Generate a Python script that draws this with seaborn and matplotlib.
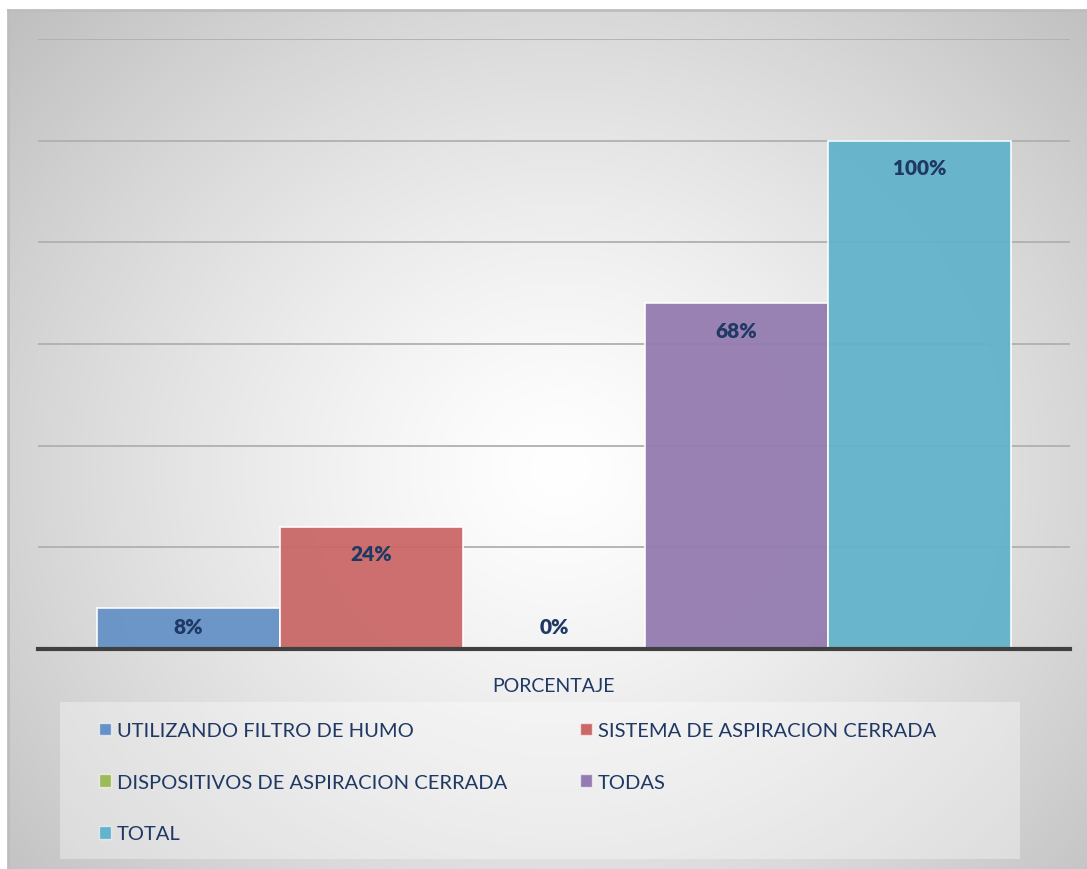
import numpy as np
import pandas as pd
import matplotlib.pyplot as plt
import seaborn as sns
from matplotlib.patches import Patch, Rectangle

# chart data
category = 'PORCENTAJE'
series = ['UTILIZANDO FILTRO DE HUMO', 'SISTEMA DE ASPIRACION CERRADA',
          'DISPOSITIVOS DE ASPIRACION CERRADA', 'TODAS', 'TOTAL']
values = [8, 24, 0, 68, 100]
colors = ['#6592c6', '#ca6867', '#9bbb59', '#947bb0', '#62b3cb']
text_color = '#1f3864'

df = pd.DataFrame({'grupo': [category] * len(series), 'serie': series, 'valor': values})

sns.set_theme(style='white')
plt.rcParams['font.family'] = ['Lato', 'DejaVu Sans']

W, H = 1087, 870
fig = plt.figure(figsize=(W / 100, H / 100), dpi=100)
fig.patch.set_facecolor('white')

# radial gradient background of the chart area
bg = fig.add_axes([8 / W, 0, 1 - 8 / W, 1 - 11 / H])
yy, xx = np.mgrid[11:H, 8:W]
dist = np.sqrt((xx - 560) ** 2 + ((yy - 470) * 1.1) ** 2) / 720
shade = 1 - 0.24 * np.clip(dist, 0, 1.2) ** 1.3
bg.imshow(np.dstack([shade] * 3), aspect='auto', extent=(0, 1, 0, 1), zorder=0)
bg.set_xlim(0, 1)
bg.set_ylim(0, 1)
bg.set_xticks([])
bg.set_yticks([])
for side in ['right', 'bottom']:
    bg.spines[side].set_visible(False)
for side in ['left', 'top']:
    bg.spines[side].set_color('#bdbdbd')
    bg.spines[side].set_linewidth(2)

# legend box
bg.add_patch(Rectangle(((60 - 8) / (W - 8), (H - 860) / (H - 11)),
                       960 / (W - 8), 157 / (H - 11),
                       facecolor='white', alpha=0.35, edgecolor='none', zorder=1))

ax = fig.add_axes([38 / W, 1 - 650 / H, (1070 - 38) / W, 610 / H])
ax.patch.set_alpha(0)
ax.set_axisbelow(True)
ax.yaxis.grid(True, color='#b0b0b0', linewidth=1.3)

sns.barplot(data=df, x='grupo', y='valor', hue='serie', hue_order=series,
            palette=colors, width=0.885, saturation=1, legend=False, ax=ax,
            edgecolor=(1, 1, 1, 0.5), linewidth=1.2, alpha=0.95)

ax.set_xlim(-0.5, 0.5)
ax.set_ylim(0, 120)
ax.set_yticks(np.arange(0, 121, 20))
ax.set_yticklabels([])
ax.set_xlabel('')
ax.set_ylabel('')
ax.tick_params(axis='both', length=0)
ax.tick_params(axis='x', labelsize=14, labelcolor=text_color, pad=20)
for side in ['left', 'right', 'top']:
    ax.spines[side].set_visible(False)
ax.spines['bottom'].set_color('#404040')
ax.spines['bottom'].set_linewidth(3)

# data labels, inside the end of each bar
for bar, v in zip(ax.patches, values):
    cx = bar.get_x() + bar.get_width() / 2
    ax.text(cx, max(v - 5.3, 4.5), f'{v}%', ha='center', va='center',
            fontsize=15, fontweight='heavy', color=text_color, zorder=5)

# legend filled row by row (matplotlib fills columns first)
handles = [Patch(facecolor=c, edgecolor=(1, 1, 1, 0.6), label=s) for s, c in zip(series, colors)]
order = [0, 2, 4, 1, 3]
leg = fig.legend(handles=[handles[i] for i in order], ncol=2, loc='upper left',
                 bbox_to_anchor=(89 / W, 1 - 713 / H), frameon=False, borderpad=0,
                 fontsize=14.5, labelcolor=text_color, handlelength=0.6,
                 handleheight=0.6, handletextpad=0.3, columnspacing=3.6,
                 labelspacing=1.72)

fig.savefig('out.png', dpi=100)
